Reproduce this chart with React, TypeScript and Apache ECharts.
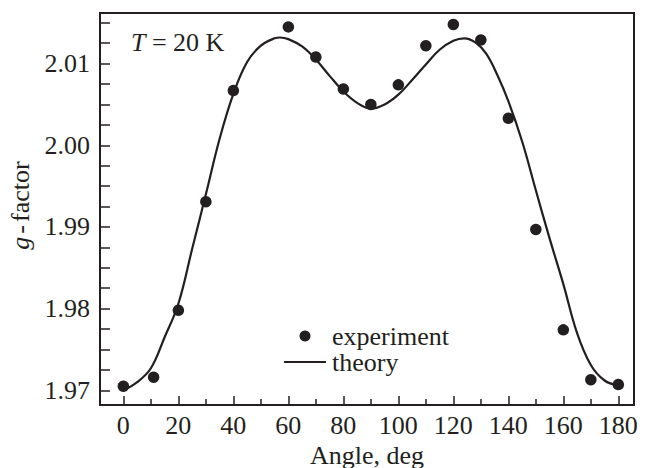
import React, { useEffect, useRef } from 'react';
import * as echarts from 'echarts';

const expAngles = [0, 11, 20, 30, 40, 60, 70, 80, 90, 100, 110, 120, 130, 140, 150, 160, 170, 180];
const expG = [1.9705, 1.9716, 1.9798, 1.9931, 2.0067, 2.0145, 2.0108, 2.0069, 2.005, 2.0074, 2.0122, 2.0148, 2.0129, 2.0033, 1.9897, 1.9774, 1.9713, 1.9707];

const theoryAngles = [0, 5, 10, 15, 20, 25, 30, 35, 40, 45, 50, 55, 57, 60, 65, 70, 75, 80, 85, 90, 95, 100, 105, 110, 115, 120, 124, 128, 132, 136, 140, 145, 150, 155, 160, 165, 170, 175, 180];
const theoryG = [1.97, 1.971, 1.9727, 1.9765, 1.9806, 1.9873, 1.994, 2.0008, 2.0063, 2.0102, 2.0122, 2.0131, 2.0132, 2.013, 2.0121, 2.0105, 2.0085, 2.0066, 2.0052, 2.0045, 2.005, 2.0062, 2.008, 2.0099, 2.0117, 2.0128, 2.0131, 2.0126, 2.0112, 2.0086, 2.0054, 2.0005, 1.9945, 1.9886, 1.983, 1.977, 1.9731, 1.9712, 1.9706];

const xMajorTicks = [0, 20, 40, 60, 80, 100, 120, 140, 160, 180];
const xMinorTicks = [10, 30, 50, 70, 90, 110, 130, 150, 170];
const yLabelTicks = [1.97, 1.98, 1.99, 2.0, 2.01];
const yTicks = [1.97, 1.9725, 1.975, 1.9775, 1.98, 1.9825, 1.985, 1.9875, 1.99, 1.9925, 1.995, 1.9975, 2.0, 2.0025, 2.005, 2.0075, 2.01, 2.0125, 2.015];

const INK = '#231f20';
const FONT = 'Liberation Serif';
const X_MIN = -8.5;
const X_MAX = 185.7;
const Y_MIN = 1.9682;
const Y_MAX = 2.0162;

export default function App() {
  const ref = useRef<HTMLDivElement>(null);
  useEffect(() => {
    if (!ref.current) return;
    const chart = echarts.init(ref.current, null, { renderer: 'svg' });
    chart.setOption({
      animation: false,
      backgroundColor: '#fff',
      grid: {
        left: 100,
        right: 21,
        top: 13,
        bottom: 63,
        containLabel: false,
        outerBoundsMode: 'none',
        show: true,
        borderColor: INK,
        borderWidth: 2,
        backgroundColor: 'transparent',
      },
      legend: {
        data: [{ name: 'experiment' }, { name: 'theory', itemStyle: { opacity: 0 } }],
        orient: 'vertical',
        left: 283,
        top: 323,
        padding: 0,
        itemWidth: 42,
        itemHeight: 11,
        itemGap: 0,
        selectedMode: false,
        textStyle: { fontFamily: FONT, fontSize: 26, color: INK, lineHeight: 26, padding: [0, 0, 0, 1] },
      },
      graphic: [
        {
          type: 'text',
          left: 131,
          top: 29,
          style: {
            text: '{i|T} = 20 K',
            fontFamily: FONT,
            fontSize: 26,
            fill: INK,
            rich: { i: { fontStyle: 'italic', fontFamily: FONT, fontSize: 26, fill: INK } },
          },
        },
      ],
      xAxis: [
        {
          type: 'value',
          min: X_MIN,
          max: X_MAX,
          name: 'Angle, deg',
          nameLocation: 'middle',
          nameGap: 34,
          nameTextStyle: { fontFamily: FONT, fontSize: 26, color: INK },
          axisLine: { show: true, onZero: false, lineStyle: { color: INK, width: 2 } },
          axisTick: { show: true, inside: true, length: 9, customValues: xMajorTicks, lineStyle: { color: INK, width: 1.5 } },
          axisLabel: { show: true, customValues: xMajorTicks, margin: 7, fontFamily: FONT, fontSize: 26, color: INK },
          splitLine: { show: false },
        },
        {
          type: 'value',
          min: X_MIN,
          max: X_MAX,
          position: 'bottom',
          axisLine: { show: false, onZero: false },
          axisTick: { show: true, inside: true, length: 6, customValues: xMinorTicks, lineStyle: { color: INK, width: 1.5 } },
          axisLabel: { show: false },
          splitLine: { show: false },
        },
      ],
      yAxis: [
        {
          type: 'value',
          min: Y_MIN,
          max: Y_MAX,
          name: '{i|g}{h|-}factor',
          nameLocation: 'middle',
          nameGap: 66,
          nameRotate: 90,
          nameTextStyle: {
            fontFamily: FONT,
            fontSize: 26,
            color: INK,
            rich: {
              i: { fontStyle: 'italic', fontFamily: FONT, fontSize: 26, color: INK, padding: [0, 0, 0, 7] },
              h: { fontFamily: FONT, fontSize: 26, color: INK, padding: [0, 3, 0, 3] },
            },
          },
          axisLine: { show: true, onZero: false, lineStyle: { color: INK, width: 2 } },
          axisTick: { show: true, inside: true, length: 10, customValues: yTicks, lineStyle: { color: INK, width: 1.5 } },
          axisLabel: {
            show: true,
            customValues: yLabelTicks,
            margin: 10,
            fontFamily: FONT,
            fontSize: 26,
            color: INK,
            formatter: (v: number) => v.toFixed(2),
          },
          splitLine: { show: false },
        },
      ],
      series: [
        {
          name: 'theory',
          type: 'line',
          xAxisIndex: 0,
          yAxisIndex: 0,
          data: theoryAngles.map((a, i) => [a, theoryG[i]]),
          smooth: 0.4,
          symbol: 'none',
          showSymbol: false,
          lineStyle: { color: INK, width: 2.2 },
          itemStyle: { color: INK },
          z: 2,
        },
        {
          name: 'experiment',
          type: 'scatter',
          xAxisIndex: 0,
          yAxisIndex: 0,
          data: expAngles.map((a, i) => [a, expG[i]]),
          symbol: 'circle',
          symbolSize: 11.5,
          itemStyle: { color: INK, opacity: 1 },
          z: 3,
        },
      ],
    });
    return () => chart.dispose();
  }, []);
  return <div ref={ref} style={{ width: 655, height: 468, position: 'absolute', left: 0, top: 0 }} />;
}
